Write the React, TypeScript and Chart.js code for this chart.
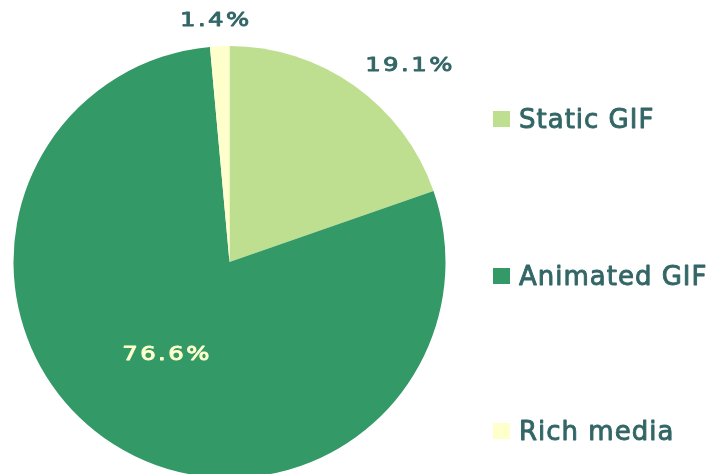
import React, { useEffect, useRef } from "react";
import { Chart, registerables } from "chart.js";

Chart.register(...registerables);

const categories = ["Static GIF", "Animated GIF", "Rich media"];
const shares = [19.1, 76.6, 1.4];
const sliceColors = ["#bddf8f", "#339966", "#ffffcc"];

const TEXT_COLOR = "#336666";
const INNER_TEXT = "#ffffcc";
const FONT = "DejaVu Sans, Verdana, sans-serif";

const labelPlugin = {
  id: "sliceLabels",
  afterDraw(chart: any) {
    const ctx = chart.ctx;
    const meta = chart.getDatasetMeta(0);
    const data = chart.data.datasets[0].data as number[];
    const total = data.reduce((a, b) => a + b, 0);
    meta.data.forEach((arc: any, i: number) => {
      const { x, y, startAngle, endAngle, outerRadius } = arc.getProps(
        ["x", "y", "startAngle", "endAngle", "outerRadius"],
        true
      );
      const mid = (startAngle + endAngle) / 2;
      const inside = data[i] / total > 0.5;
      const r = inside ? outerRadius * 0.51 : outerRadius + 25;
      const px = x + Math.cos(mid) * r;
      const py = y + Math.sin(mid) * r;
      const text = data[i].toFixed(1) + "%";
      ctx.save();
      ctx.font = `20px ${FONT}`;
      (ctx as any).letterSpacing = "2px";
      const col = inside ? INNER_TEXT : TEXT_COLOR;
      ctx.fillStyle = col;
      ctx.strokeStyle = col;
      ctx.lineWidth = 0.9;
      ctx.lineJoin = "round";
      ctx.textBaseline = "middle";
      const sx = 1.22;
      const w = (ctx.measureText(text).width - 2) * sx;
      let left = px - w / 2 - 4;
      if (!inside && Math.cos(mid) > 0.3) left = px - 4;
      if (!inside && Math.cos(mid) < -0.3) left = px - w;
      ctx.translate(left, py);
      ctx.scale(sx, 1);
      ctx.textAlign = "left";
      ctx.fillText(text, 0, 0);
      ctx.strokeText(text, 0, 0);
      ctx.restore();
    });

    // legend
    const legendX = 493;
    const legendRows = [119, 276, 431];
    ctx.save();
    chart.data.labels.forEach((lab: string, i: number) => {
      const cy = legendRows[i];
      ctx.fillStyle = (chart.data.datasets[0].backgroundColor as string[])[i];
      ctx.fillRect(legendX, cy - 8, 17, 16);
      ctx.font = `26px ${FONT}`;
      (ctx as any).letterSpacing = "1px";
      ctx.fillStyle = TEXT_COLOR;
      ctx.strokeStyle = TEXT_COLOR;
      ctx.lineWidth = 0.9;
      ctx.lineJoin = "round";
      ctx.textBaseline = "alphabetic";
      ctx.textAlign = "left";
      ctx.fillText(lab, legendX + 26, cy + 9);
      ctx.strokeText(lab, legendX + 26, cy + 9);
    });
    ctx.restore();
  },
};

export default function App() {
  const ref = useRef<HTMLCanvasElement | null>(null);
  useEffect(() => {
    document.body.style.margin = "0";
    const chart = new Chart(ref.current!, {
      type: "pie",
      data: {
        labels: categories,
        datasets: [
          {
            data: shares,
            backgroundColor: sliceColors,
            borderWidth: 0,
          },
        ],
      },
      options: {
        responsive: false,
        animation: false,
        layout: { padding: { left: 13, right: 271, top: 46, bottom: 22 } },
        plugins: {
          legend: { display: false },
          tooltip: { enabled: false },
        },
      },
      plugins: [labelPlugin],
    });
    return () => chart.destroy();
  }, []);
  return (
    <div
      style={{
        position: "absolute",
        left: 0,
        top: 0,
        width: 717,
        height: 474,
        overflow: "hidden",
        background: "#ffffff",
      }}
    >
      <canvas ref={ref} width={717} height={500} style={{ width: 717, height: 500 }} />
    </div>
  );
}
